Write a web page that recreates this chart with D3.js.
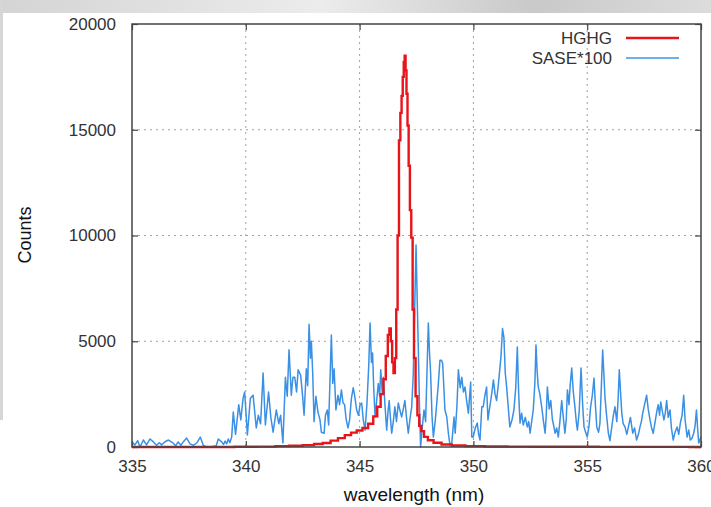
<!DOCTYPE html>
<html>
<head>
<meta charset="utf-8">
<script src="https://cdn.jsdelivr.net/npm/d3@7"></script>
<style>
	body { margin: 0; background: #fff; }
	text { font-family: 'Liberation Sans', Arial, sans-serif; }
</style>
</head>
<body>
<div id="chart-area"></div>
<script>

// x / y tick labels
const xTicks = [335, 340, 345, 350, 355, 360];
const yTicks = [0, 5000, 10000, 15000, 20000];

const seriesNames = ['HGHG', 'SASE*100'];

// HGHG spectrum (wavelength nm, counts)
const hghgWl = [335, 336, 337, 338, 339, 340, 341, 341.6, 342.2, 342.8, 343.2, 343.55, 343.9, 344.2,
	344.5, 344.75, 345.0, 345.25, 345.5, 345.7, 345.85, 346.0, 346.1, 346.2, 346.28, 346.34, 346.4,
	346.46, 346.52, 346.58, 346.64, 346.7, 346.76, 346.82, 346.87, 346.92, 346.96, 347.0, 347.04,
	347.08, 347.13, 347.18, 347.24, 347.3, 347.36, 347.42, 347.5, 347.58, 347.66, 347.76, 347.9,
	348.1, 348.4, 348.8, 349.3, 350, 351, 352, 353, 354, 355, 356, 357, 358, 359, 360];
const hghgCounts = [0, 0, 0, 0, 0, 10, 20, 40, 60, 90, 140, 190, 300, 420,
	560, 680, 780, 900, 1100, 1450, 1900, 2500, 3200, 4300, 5300, 5600, 5000,
	4000, 3500, 4200, 6500, 10000, 14500, 15800, 16600, 17500, 18200, 18500, 17800,
	16700, 15200, 13300, 11200, 9900, 6500, 4200, 2400, 1500, 1000, 750, 480,
	320, 200, 120, 70, 40, 25, 20, 15, 10, 10, 5, 5, 5, 5, 0];

// SASE spectrum x100 (wavelength nm, counts)
const saseWl = [335.0, 335.13, 335.25, 335.35, 335.5, 335.64, 335.79, 335.94, 336.08, 336.2, 336.3,
	336.45, 336.6, 336.8, 336.92, 337.03, 337.15, 337.25, 337.4, 337.55, 337.7, 337.85, 338.0,
	338.13, 338.25, 338.4, 338.55, 338.7, 338.79, 338.94, 339.02, 339.09, 339.16, 339.23, 339.3,
	339.38, 339.45, 339.55, 339.62, 339.69, 339.78, 339.88, 339.95, 340.07, 340.2, 340.32, 340.46,
	340.55, 340.65, 340.76, 340.86, 341.0, 341.1, 341.2, 341.34, 341.45, 341.53, 341.63, 341.74,
	341.82, 341.9, 342.0, 342.07, 342.15, 342.23, 342.3, 342.41, 342.5, 342.56, 342.66, 342.72,
	342.78, 342.84, 342.88, 342.94, 343.0, 343.08, 343.17, 343.26, 343.32, 343.44, 343.5, 343.58,
	343.64, 343.7, 343.76, 343.82, 343.88, 343.96, 344.05, 344.12, 344.2, 344.27, 344.34, 344.41,
	344.49, 344.56, 344.64, 344.72, 344.78, 344.87, 344.95, 345.02, 345.09, 345.16, 345.24, 345.32,
	345.4, 345.46, 345.52, 345.57, 345.62, 345.68, 345.75, 345.82, 345.88, 345.93, 346.0, 346.04,
	346.12, 346.19, 346.25, 346.3, 346.36, 346.41, 346.48, 346.55, 346.62, 346.7, 346.78, 346.85,
	346.92, 346.99, 347.06, 347.14, 347.21, 347.29, 347.36, 347.42, 347.48, 347.53, 347.58, 347.63,
	347.68, 347.75, 347.83, 347.9, 347.96, 348.02, 348.07, 348.12, 348.18, 348.24, 348.32, 348.39,
	348.46, 348.53, 348.6, 348.65, 348.75, 348.83, 348.9, 348.97, 349.05, 349.15, 349.2, 349.28,
	349.34, 349.42, 349.49, 349.56, 349.63, 349.7, 349.78, 349.88, 349.93, 349.99, 350.08, 350.17,
	350.23, 350.29, 350.37, 350.43, 350.5, 350.58, 350.64, 350.7, 350.79, 350.88, 350.95, 351.02,
	351.1, 351.21, 351.28, 351.34, 351.4, 351.46, 351.53, 351.6, 351.7, 351.78, 351.86, 351.93,
	351.99, 352.05, 352.12, 352.19, 352.28, 352.37, 352.43, 352.49, 352.56, 352.63, 352.7, 352.75,
	352.8, 352.85, 352.92, 353.0, 353.08, 353.15, 353.2, 353.25, 353.33, 353.4, 353.47, 353.53,
	353.59, 353.66, 353.73, 353.8, 353.88, 353.95, 354.02, 354.08, 354.13, 354.2, 354.25, 354.32,
	354.39, 354.46, 354.52, 354.57, 354.65, 354.73, 354.8, 354.86, 354.93, 355.0, 355.08, 355.15,
	355.22, 355.3, 355.36, 355.42, 355.5, 355.56, 355.62, 355.68, 355.73, 355.78, 355.85, 355.93,
	356.0, 356.08, 356.15, 356.22, 356.3, 356.36, 356.41, 356.47, 356.52, 356.58, 356.66, 356.74,
	356.81, 356.9, 357.0, 357.08, 357.17, 357.25, 357.32, 357.38, 357.44, 357.52, 357.61, 357.68,
	357.76, 357.83, 357.9, 358.0, 358.06, 358.12, 358.18, 358.23, 358.3, 358.37, 358.43, 358.49,
	358.56, 358.64, 358.7, 358.78, 358.86, 358.95, 359.02, 359.1, 359.17, 359.24, 359.3, 359.39,
	359.46, 359.53, 359.6, 359.68, 359.74, 359.8, 359.85, 359.9, 360.0];
const saseCounts = [240, 100, 300, 0, 330, 100, 380, 240, 80, 200, 100,
	250, 330, 190, 60, 240, 80, 240, 420, 150, 80, 200, 470,
	80, 20, 0, 30, 60, 380, 240, 120, 280, 150, 380, 200,
	470, 1650, 600, 1300, 2000, 1280, 2300, 2600, 570, 2300, 2450, 900,
	1500, 1100, 3500, 1040, 2600, 1400, 700, 1750, 1100, 1500, 190, 3300,
	2400, 4600, 2450, 3300, 3300, 2600, 3650, 3400, 2360, 1500, 3700, 2900,
	5800, 4200, 5000, 3500, 1200, 2400, 1650, 1280, 700, 650, 1500, 1750,
	1040, 3200, 5300, 3000, 3700, 1750, 2450, 2000, 2700, 2100, 2000, 1300,
	900, 1280, 2300, 2800, 2450, 1750, 1500, 2000, 2080, 1300, 800, 2000,
	3800, 5860, 4000, 4450, 2800, 1420, 2200, 3000, 2400, 3650, 2500, 3300,
	1900, 800, 1700, 2200, 1300, 650, 1200, 1900, 1200, 2080, 1700, 1420,
	1800, 2200, 1400, 650, 1300, 1900, 3500, 6500, 9550, 7000, 4600, 2000,
	0, 900, 1750, 1200, 3500, 5860, 4500, 3500, 1500, 470, 1200, 2080,
	3000, 4100, 4100, 3950, 1750, 1420, 650, 100, 190, 1420, 650, 2000,
	3650, 2800, 3300, 2600, 2840, 2200, 1600, 3070, 470, 470, 900, 1130,
	600, 330, 1900, 1900, 2400, 2840, 1280, 1750, 2400, 3170, 2500, 2200,
	3000, 4250, 5600, 5200, 3500, 2840, 1900, 950, 1300, 1750, 2800, 4730,
	2500, 1130, 1600, 1040, 1400, 950, 1200, 650, 1200, 1750, 3000, 4820,
	3600, 2840, 2500, 1900, 1200, 650, 1500, 2840, 1800, 2200, 1300, 1000,
	650, 900, 470, 1200, 2200, 1400, 650, 1300, 2700, 2000, 2900, 3730,
	2600, 1900, 1200, 800, 1700, 3730, 2000, 950, 700, 470, 1000, 1900,
	2400, 3260, 2000, 950, 700, 1130, 2800, 4590, 3500, 2360, 1500, 650,
	300, 950, 1500, 1900, 1200, 2300, 3650, 2500, 1600, 1100, 950, 600,
	950, 1400, 650, 900, 330, 600, 950, 1200, 1600, 2000, 2450, 1800,
	1280, 900, 650, 1300, 1700, 2000, 1500, 2130, 1700, 1280, 1600, 2200,
	1400, 1750, 900, 330, 700, 950, 600, 1180, 1500, 2450, 1300, 470,
	800, 330, 400, 650, 1000, 1750, 900, 190, 470];

let margin = { left: 132, right: 10, top: 24, bottom: 60 };
let width = 711 - margin.left - margin.right;
let height = 507 - margin.top - margin.bottom;

const svg = d3.select('#chart-area').append('svg')
	.attr('width', 711)
	.attr('height', 507);

// slide background bits round the picture
let grad = svg.append('defs').append('linearGradient')
	.attr('id', 'topband').attr('x1', 0).attr('x2', 1);
grad.append('stop').attr('offset', '0%').attr('stop-color', '#d4d4d4');
grad.append('stop').attr('offset', '45%').attr('stop-color', '#ececec');
grad.append('stop').attr('offset', '75%').attr('stop-color', '#c9c9c9');
grad.append('stop').attr('offset', '100%').attr('stop-color', '#dcdcdc');
svg.append('rect').attr('x', 0).attr('y', 0).attr('width', 711).attr('height', 13)
	.attr('fill', 'url(#topband)');
svg.append('rect').attr('x', 0).attr('y', 0).attr('width', 3).attr('height', 420)
	.attr('fill', '#d6d6d6');

let g = svg.append('g')
	.attr('transform', 'translate(' + margin.left + ', ' + margin.top + ')');

let x = d3.scaleLinear().domain([335, 360]).range([0, width]);
let y = d3.scaleLinear().domain([0, 20000]).range([height, 0]);

// dotted grid
g.selectAll('.vgrid')
	.data(xTicks.slice(1, -1))
	.enter().append('line')
		.attr('x1', d => x(d)).attr('x2', d => x(d))
		.attr('y1', 0).attr('y2', height)
		.attr('stroke', '#a0a0a0')
		.attr('stroke-dasharray', '2,4');
g.selectAll('.hgrid')
	.data(yTicks.slice(1, -1))
	.enter().append('line')
		.attr('x1', 0).attr('x2', width)
		.attr('y1', d => y(d)).attr('y2', d => y(d))
		.attr('stroke', '#a0a0a0')
		.attr('stroke-dasharray', '2,4');

// axes, ticks pointing in and mirrored
g.append('g')
	.attr('transform', 'translate(0, ' + height + ')')
	.call(d3.axisBottom(x).tickValues(xTicks).tickSize(-6).tickPadding(13).tickFormat(d3.format('d')));
g.append('g')
	.call(d3.axisLeft(y).tickValues(yTicks).tickSize(-6).tickPadding(16).tickFormat(d3.format('d')));
g.append('g')
	.call(d3.axisTop(x).tickValues(xTicks).tickSize(-6).tickFormat(''));
g.append('g')
	.attr('transform', 'translate(' + width + ', 0)')
	.call(d3.axisRight(y).tickValues(yTicks).tickSize(-6).tickFormat(''));

g.selectAll('.domain').remove();
g.selectAll('.tick line').attr('stroke', '#444').attr('stroke-width', 1.2);
g.selectAll('.tick text')
	.attr('font-size', '17px')
	.attr('fill', '#333')
	.style('font-family', "'Liberation Sans', Arial, sans-serif");

let line = d3.line()
	.x(d => x(d[0]))
	.y(d => y(d[1]));

// SASE first so HGHG sits on top
g.append('path')
	.datum(saseWl.map((w, i) => [w, saseCounts[i]]))
	.attr('fill', 'none')
	.attr('stroke', '#3a90e4')
	.attr('stroke-width', 1.5)
	.attr('stroke-linejoin', 'round')
	.attr('d', line);

g.append('path')
	.datum(hghgWl.map((w, i) => [w, hghgCounts[i]]))
	.attr('fill', 'none')
	.attr('stroke', '#e8141a')
	.attr('stroke-width', 2.4)
	.attr('d', line.curve(d3.curveStep));

// frame
g.append('rect')
	.attr('width', width).attr('height', height)
	.attr('fill', 'none')
	.attr('stroke', '#444')
	.attr('stroke-width', 1.5);

// legend
let legendColors = ['#e8141a', '#3d93e6'];
let legendWidths = [2.4, 1.3];
let legend = svg.selectAll('.legend')
	.data(seriesNames)
	.enter().append('g')
		.attr('transform', (d, i) => 'translate(0, ' + (38 + i * 20) + ')');
legend.append('text')
	.attr('x', 612)
	.attr('dy', '0.35em')
	.attr('text-anchor', 'end')
	.attr('font-size', '17px')
	.attr('fill', '#333')
	.text(d => d);
legend.append('line')
	.attr('x1', 626).attr('x2', 679)
	.attr('stroke', (d, i) => legendColors[i])
	.attr('stroke-width', (d, i) => legendWidths[i]);

// x label
svg.append('text')
	.attr('x', 414)
	.attr('y', 501)
	.attr('font-size', '19px')
	.attr('text-anchor', 'middle')
	.attr('fill', '#111')
	.text('wavelength (nm)');

// y label
svg.append('text')
	.attr('x', -235)
	.attr('y', 31)
	.attr('font-size', '18px')
	.attr('text-anchor', 'middle')
	.attr('fill', '#111')
	.attr('transform', 'rotate(-90)')
	.text('Counts');

</script>
</body>
</html>
